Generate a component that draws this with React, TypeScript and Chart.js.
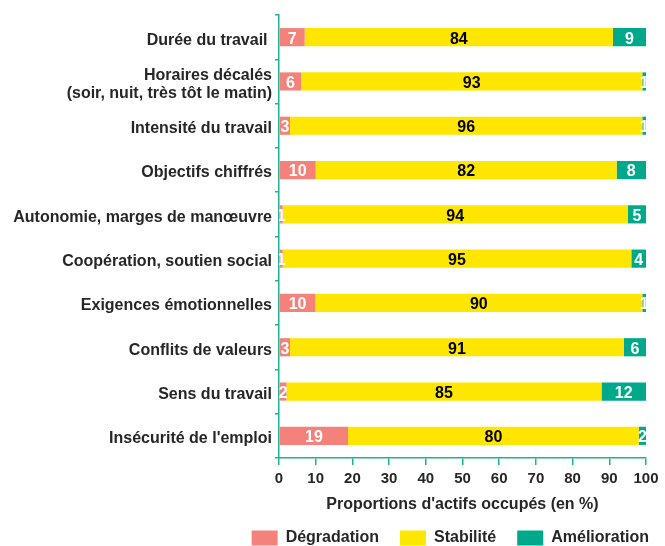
import React, { useEffect, useRef } from 'react';
import { Chart, registerables } from 'chart.js';

Chart.register(...registerables);

const categories: (string | string[])[] = [
  'Durée du travail ',
  ['Horaires décalés', '(soir, nuit, très tôt le matin)'],
  'Intensité du travail',
  'Objectifs chiffrés',
  'Autonomie, marges de manœuvre',
  'Coopération, soutien social',
  'Exigences émotionnelles',
  'Conflits de valeurs',
  'Sens du travail',
  "Insécurité de l'emploi",
];
const degradation = [7, 6, 3, 10, 1, 1, 10, 3, 2, 19];
const stabilite = [84, 93, 96, 82, 94, 95, 90, 91, 85, 80];
const amelioration = [9, 1, 1, 8, 5, 4, 1, 6, 12, 2];
const seriesNames = ['Dégradation', 'Stabilité', 'Amélioration'];
const xTickValues = [0, 10, 20, 30, 40, 50, 60, 70, 80, 90, 100];
const axisTitle = "Proportions d'actifs occupés (en %)";

const PINK = '#F4827B';
const YELLOW = '#FFE600';
const GREEN = '#00A98B';
const AXIS = '#1DB394';
const TEXT = '#262626';
const FONT = '"Liberation Sans", Arial, Helvetica, sans-serif';

const rowTotals = degradation.map((d, i) => d + stabilite[i] + amelioration[i]);
const share = (arr: number[]) => arr.map((v, i) => (v * 100) / rowTotals[i]);

const valueLabels = {
  id: 'valueLabels',
  afterDatasetsDraw(chart: any) {
    const { ctx, chartArea } = chart;
    ctx.save();
    ctx.beginPath();
    ctx.rect(chartArea.left, chartArea.top, chartArea.right - chartArea.left, chartArea.bottom - chartArea.top);
    ctx.clip();
    ctx.font = `bold 16px ${FONT}`;
    ctx.textAlign = 'center';
    ctx.textBaseline = 'middle';
    chart.data.datasets.forEach((ds: any, di: number) => {
      const meta = chart.getDatasetMeta(di);
      meta.data.forEach((el: any, i: number) => {
        const { x, y, base } = el.getProps(['x', 'y', 'base'], true);
        ctx.fillStyle = ds.labelColor;
        ctx.fillText(String(ds.rawValues[i]), (x + base) / 2, y + 2);
      });
    });
    ctx.restore();
  },
};

export default function App() {
  const ref = useRef<HTMLCanvasElement | null>(null);

  useEffect(() => {
    if (!ref.current) return;
    const chart = new Chart(ref.current, {
      type: 'bar',
      data: {
        labels: categories,
        datasets: [
          { label: seriesNames[0], data: share(degradation), backgroundColor: PINK, borderWidth: 0, rawValues: degradation, labelColor: '#ffffff' } as any,
          { label: seriesNames[1], data: share(stabilite), backgroundColor: YELLOW, borderWidth: 0, rawValues: stabilite, labelColor: '#000000' } as any,
          { label: seriesNames[2], data: share(amelioration), backgroundColor: GREEN, borderWidth: 0, rawValues: amelioration, labelColor: '#ffffff' } as any,
        ],
      },
      options: {
        indexAxis: 'y',
        animation: false,
        responsive: true,
        maintainAspectRatio: false,
        layout: { padding: { top: 15, right: -5, left: 0, bottom: -10 } },
        datasets: { bar: { categoryPercentage: 1, barPercentage: 0.41 } },
        scales: {
          x: {
            stacked: true,
            min: 0,
            max: 100,
            afterBuildTicks: (scale: any) => {
              scale.ticks = xTickValues.map((v) => ({ value: v }));
            },
            afterFit: (scale: any) => {
              scale.paddingRight = 19;
              scale.height = 51;
            },
            ticks: { color: TEXT, font: { family: FONT, size: 15, weight: 'bold' }, padding: 5, maxRotation: 0 },
            grid: { drawOnChartArea: false, drawTicks: true, tickLength: 7, color: AXIS, lineWidth: 1.5 },
            border: { color: AXIS, width: 1.5 },
            title: {
              display: true,
              text: axisTitle,
              color: TEXT,
              font: { family: FONT, size: 16, weight: 'bold' },
              padding: { top: 7, bottom: -5 },
            },
          },
          y: {
            stacked: true,
            afterFit: (scale: any) => {
              scale.width = 279;
            },
            ticks: {
              color: TEXT,
              font: { family: FONT, size: 16, weight: 'bold', lineHeight: 1.1 },
              padding: 3,
              labelOffset: 3,
            },
            grid: { drawOnChartArea: false, drawTicks: true, tickLength: 4, color: AXIS, lineWidth: 1.5, offset: true },
            border: { color: AXIS, width: 1.5 },
          },
        },
        plugins: {
          legend: {
            position: 'bottom',
            align: 'end',
            labels: {
              boxWidth: 26,
              boxHeight: 15,
              padding: 21,
              color: TEXT,
              font: { family: FONT, size: 16, weight: 'bold' },
            },
          },
          tooltip: { enabled: false },
        },
      } as any,
      plugins: [valueLabels],
    });
    return () => chart.destroy();
  }, []);

  return (
    <div style={{ position: 'fixed', left: 0, top: 0, width: 665, height: 546, background: '#ffffff' }}>
      <canvas ref={ref} />
    </div>
  );
}
